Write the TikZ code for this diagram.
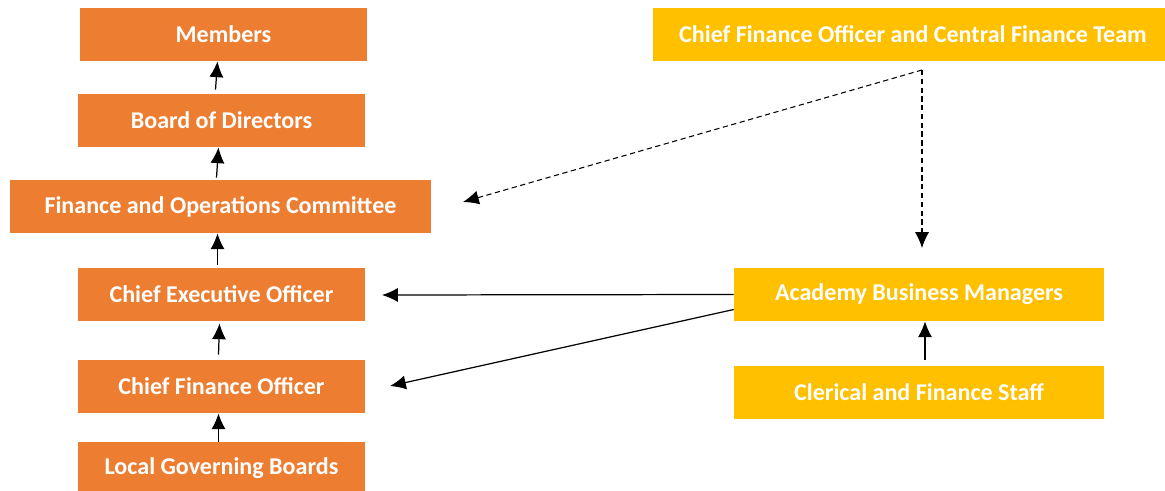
\documentclass[tikz,border=0pt]{standalone}
\usepackage{xcolor}
\usepackage{fontspec}
\setmainfont{Carlito}
\usetikzlibrary{arrows.meta}
\definecolor{govorange}{HTML}{ED7D31}
\definecolor{opsgold}{HTML}{FFC000}
\begin{document}
\begin{tikzpicture}[x=0.02cm,y=-0.02cm,>={Latex[length=9pt,width=8pt]},
	govbox/.style={fill=govorange,text=white,font=\fontsize{13.7}{16}\selectfont\bfseries,minimum height=1.06cm,inner sep=0pt},
	opsbox/.style={govbox,fill=opsgold},
	link/.style={->,line width=0.7pt},
	duty/.style={->,line width=0.6pt,dash pattern=on 3pt off 2pt}]
			\useasboundingbox (0,0) rectangle (1165,490);
			%governance column
			\node[govbox,minimum width=5.74cm] (mem) at (223.5,34.5) {Members};
			\node[govbox,minimum width=5.74cm] (bod) at (221.5,120.5) {Board of Directors};
			\node[govbox,minimum width=8.42cm] (foc) at (220.5,206.5) {Finance and Operations Committee};
			\node[govbox,minimum width=5.74cm] (ceo) at (221.5,294.5) {Chief Executive Officer};
			\node[govbox,minimum width=5.74cm] (cfo) at (221.5,386.5) {Chief Finance Officer};
			\node[govbox,minimum width=5.74cm] (lgb) at (221.5,468.5) {Local Governing Boards};
			%finance team column
			\node[opsbox,minimum width=10.4cm] (cfoteam) at (913,34.5) {Chief Finance Officer and Central Finance Team};
			\node[opsbox,minimum width=7.4cm] (abm) at (919,294.5) {Academy Business Managers};
			\node[opsbox,minimum width=7.4cm] (cfs) at (919,392.5) {Clerical and Finance Staff};
			\coordinate (split) at (922,70);
			\coordinate (focend) at (463,202);
			\coordinate (abmend) at (922,248);
			\coordinate (ceoend) at (382,295);
			\coordinate (cfoend) at (390,386);
			%reporting lines
			\draw[link] ([xshift=-0.12cm,yshift=0.08cm]bod.north) -- ([xshift=-0.12cm]mem.south);
			\draw[link] ([xshift=-0.08cm,yshift=0.04cm]foc.north) -- ([xshift=-0.06cm]bod.south);
			\draw[link] ([xshift=-0.08cm,yshift=0.06cm]ceo.north) -- ([xshift=-0.06cm]foc.south);
			\draw[link] ([xshift=-0.06cm,yshift=0.1cm]cfo.north) -- ([xshift=-0.04cm,yshift=-0.04cm]ceo.south);
			\draw[link] ([xshift=-0.06cm]lgb.north) -- ([xshift=-0.06cm]cfo.south);
			\draw[link] ([xshift=0.12cm,yshift=0.12cm]cfs.north) -- ([xshift=0.12cm]abm.south);
			\draw[link] (abm.west) -- (ceoend);
			\draw[link] ([yshift=-0.3cm]abm.west) -- (cfoend);
			\draw[duty] (split) -- (focend);
			\draw[duty] (split) -- (abmend);
		\end{tikzpicture}
\end{document}
